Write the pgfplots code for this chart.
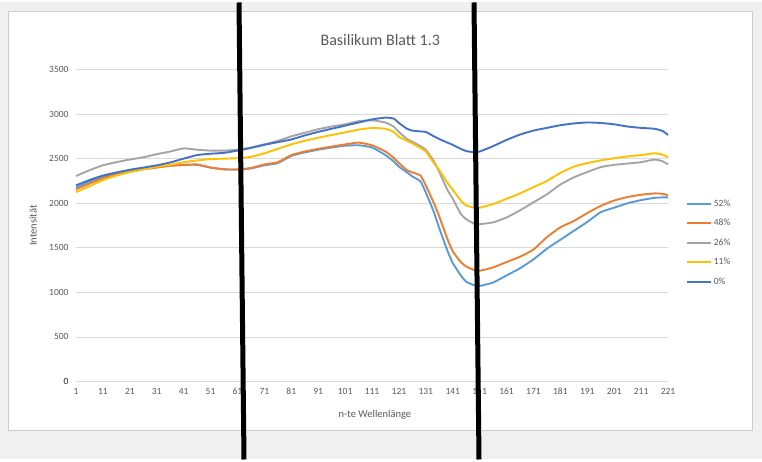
\documentclass[border=0pt]{standalone}
\usepackage{fontspec}
\setmainfont{Carlito}
\usepackage{pgfplots}
\pgfplotsset{compat=1.18}
\usepackage{pgfplotstable}
\definecolor{sA}{HTML}{5B9BD5}
\definecolor{sB}{HTML}{ED7D31}
\definecolor{sC}{HTML}{A5A5A5}
\definecolor{sD}{HTML}{FFC000}
\definecolor{sE}{HTML}{4472C4}
\definecolor{txt}{HTML}{595959}
\definecolor{gridc}{HTML}{D9D9D9}
\pgfplotstableread{
k p52 p48 p26 p11 p0
1 2175 2155 2305 2125 2200
6 2240 2220 2370 2190 2260
11 2295 2280 2425 2260 2310
16 2335 2320 2460 2310 2345
21 2365 2350 2490 2350 2375
26 2390 2380 2515 2380 2400
31 2405 2400 2550 2410 2425
36 2420 2420 2580 2430 2457
41 2430 2430 2615 2460 2500
46 2430 2435 2600 2480 2540
51 2400 2400 2590 2495 2555
56 2380 2380 2590 2500 2565
61 2378 2378 2600 2505 2590
66 2390 2395 2625 2520 2620
71 2425 2435 2660 2560 2655
76 2450 2460 2700 2610 2685
81 2530 2540 2750 2660 2715
86 2570 2580 2790 2700 2760
91 2600 2610 2830 2735 2800
96 2625 2635 2860 2765 2835
101 2645 2660 2885 2795 2870
106 2650 2680 2920 2825 2905
111 2625 2650 2930 2845 2940
116 2540 2580 2905 2835 2960
119 2470 2510 2860 2800 2950
121 2410 2450 2800 2745 2900
124 2345 2370 2720 2700 2835
126 2300 2345 2690 2670 2815
129 2245 2310 2640 2620 2805
131 2120 2200 2600 2580 2800
134 1900 2000 2470 2450 2750
136 1720 1850 2350 2370 2720
139 1470 1600 2150 2230 2680
141 1330 1460 2050 2150 2655
144 1190 1340 1880 2030 2610
146 1120 1290 1820 1975 2585
149 1080 1250 1770 1950 2572
151 1072 1242 1765 1950 2580
156 1110 1280 1785 1990 2640
161 1190 1340 1840 2050 2710
166 1270 1400 1920 2110 2770
171 1370 1480 2010 2180 2815
176 1490 1620 2100 2250 2845
181 1590 1730 2210 2340 2875
186 1690 1800 2290 2410 2895
191 1790 1890 2350 2450 2906
196 1900 1970 2405 2480 2900
201 1950 2030 2430 2505 2885
206 2000 2070 2445 2525 2860
211 2035 2095 2460 2540 2845
216 2060 2110 2490 2560 2835
219 2065 2105 2470 2545 2810
221 2065 2090 2435 2515 2765
}\data
\begin{document}
\begin{tikzpicture}[x=1pt,y=1pt]
\fill[gray!12] (0,0) rectangle (762,457);
\draw[gray!40,fill=white] (8,29) rectangle (752,448);
\begin{axis}[
  at={(76pt,78pt)}, anchor=south west,
  scale only axis, width=592pt, height=312pt,
  xmin=1, xmax=221, ymin=0, ymax=3500,
  xtick={1,11,...,221}, ytick={0,500,...,3500},
  major tick length=0pt,
  axis line style={draw=none},
  axis x line*=bottom, axis y line*=left,
  ymajorgrids, grid style={gridc, line width=0.8pt},
  extra y ticks={0}, extra y tick style={grid style={gridc,line width=0.8pt}},
  /pgf/number format/assume math mode=true,
  /pgf/number format/1000 sep={},
  tick label style={font=\fontsize{9.5}{11}\selectfont, text=txt},
  yticklabel style={xshift=-4pt},
  xticklabel style={yshift=-3pt},
  title={Basilikum Blatt 1.3},
  title style={at={(axis description cs:0.514,1.076)}, anchor=center, font=\fontsize{16}{18}\selectfont, text=txt},
  xlabel={n-te Wellenlänge},
  xlabel style={at={(axis description cs:0.505,-0.106)}, anchor=center, font=\fontsize{10.5}{12}\selectfont, text=txt},
  ylabel={Intensität},
  ylabel style={at={(axis description cs:-0.0726,0.5)}, anchor=center, font=\fontsize{10.5}{12}\selectfont, text=txt},
  legend style={at={(axis description cs:1.025,0.445)}, anchor=west, draw=none, fill=none,
    font=\fontsize{9.5}{11}\selectfont, text=txt, row sep=7.5pt},
  legend cell align=left,
  legend image code/.code={\draw[#1] (0pt,0pt) -- (24pt,0pt);},
  every axis plot/.append style={line width=1.9pt, no markers, smooth, tension=0.3},
  clip=false,
]
\addplot[sA] table[x=k,y=p52] {\data};
\addplot[sB] table[x=k,y=p48] {\data};
\addplot[sC] table[x=k,y=p26] {\data};
\addplot[sD] table[x=k,y=p11] {\data};
\addplot[sE] table[x=k,y=p0] {\data};
\legend{52\%,48\%,26\%,11\%,0\%}
\end{axis}
\draw[line width=5pt] (239,457) -- (244,0);
\draw[line width=5pt] (474,457) -- (479,0);
\end{tikzpicture}
\end{document}
